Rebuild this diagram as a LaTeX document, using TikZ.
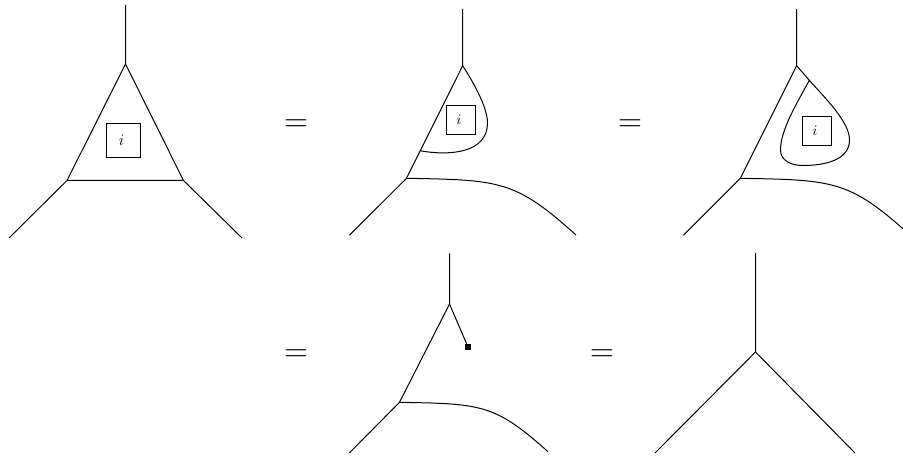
\documentclass[tikz,border=0pt]{standalone}
\tikzset{
  wire/.style={line width=0.75pt,line join=round},
  lab/.style={draw,line width=0.72pt,minimum size=#1,inner sep=0pt},
  eqsign/.style={inner sep=0pt,font=\fontsize{24}{26}\selectfont},
  dot/.style={fill=black,inner sep=0pt,minimum size=4.4pt,shape=rectangle}
}
\begin{document}
\begin{tikzpicture}[x=0.75pt,y=-0.75pt]
\useasboundingbox (0,0) rectangle (903,456);
% Panel 1
\coordinate (a0) at (125.5,5); \coordinate (a1) at (125.5,64);
\coordinate (a2) at (67,180.5); \coordinate (a3) at (183.5,180.5);
\coordinate (a4) at (9,238); \coordinate (a5) at (242,238);
\draw[wire] (a0)--(a1)--(a2)--(a3)--(a1);
\draw[wire] (a2)--(a4); \draw[wire] (a3)--(a5);
\node[lab=25.5pt] (abox) at (123,140.5) {};
\node (ai) at (121.5,140) {\fontsize{12}{13}\selectfont$i$};
\node[eqsign] (e1) at (296,125.5) {$=$};
% Panel 2
\coordinate (b0) at (462.7,9); \coordinate (b1) at (462.7,65.7);
\coordinate (b2) at (406.5,178.3); \coordinate (b4) at (349.3,235.3);
\coordinate (b5) at (576,235); \coordinate (b6) at (420,150.7);
\draw[wire] (b0)--(b1)--(b2)--(b4);
\draw[wire] (b1) .. controls (475,85) and (487.5,108) .. (487.5,123)
  .. controls (487.5,152) and (452,156.5) .. (b6);
\draw[wire] (b2) .. controls (500,180) and (515,180) .. (b5);
\node[lab=21.7pt] (bbox) at (460.7,120) {};
\node (bi) at (459,120) {\fontsize{10.5}{12}\selectfont$i$};
\node[eqsign] (e2) at (630,125.5) {$=$};
% Panel 3
\coordinate (c0) at (796.7,9); \coordinate (c1) at (796.7,65.7);
\coordinate (c2) at (740.3,178.3); \coordinate (c4) at (683.3,235.3);
\coordinate (c5) at (910,235); \coordinate (c6) at (809.3,80.3);
\draw[wire] (c0)--(c1)--(c2)--(c4);
\draw[wire] (c1)--(c6);
\draw[wire] (c6) .. controls (826,99) and (849.5,122) .. (849.5,140)
  .. controls (849.5,160) and (825,165.5) .. (803,165.5)
  .. controls (790,165.5) and (780.5,160) .. (780.5,150)
  .. controls (780.5,130) and (797,103) .. (c6);
\begin{scope}
\clip (0,0) rectangle (903,456);
\draw[wire] (c2) .. controls (834,180) and (849,180) .. (c5);
\end{scope}
\node[lab=21.7pt] (cbox) at (816.8,131) {};
\node (ci) at (815,131) {\fontsize{10.5}{12}\selectfont$i$};
% Panel 4
\coordinate (d0) at (449.5,253.3); \coordinate (d1) at (449.5,304);
\coordinate (d2) at (399.5,402.3); \coordinate (d4) at (349.3,453);
\coordinate (d5) at (548,451.7);
\node[dot] (d6) at (468,347) {};
\draw[wire] (d0)--(d1)--(d2)--(d4);
\draw[wire] (d1)--(d6);
\draw[wire] (d2) .. controls (481.5,403.8) and (494.5,403.8) .. (d5);
\node[eqsign] (e3) at (296,356) {$=$};
\node[eqsign] (e4) at (602,356) {$=$};
% Panel 5
\coordinate (f0) at (755.5,253); \coordinate (f1) at (755.5,352);
\coordinate (f2) at (655,453); \coordinate (f3) at (855,453);
\draw[wire] (f0)--(f1)--(f2); \draw[wire] (f1)--(f3);
\end{tikzpicture}
\end{document}
